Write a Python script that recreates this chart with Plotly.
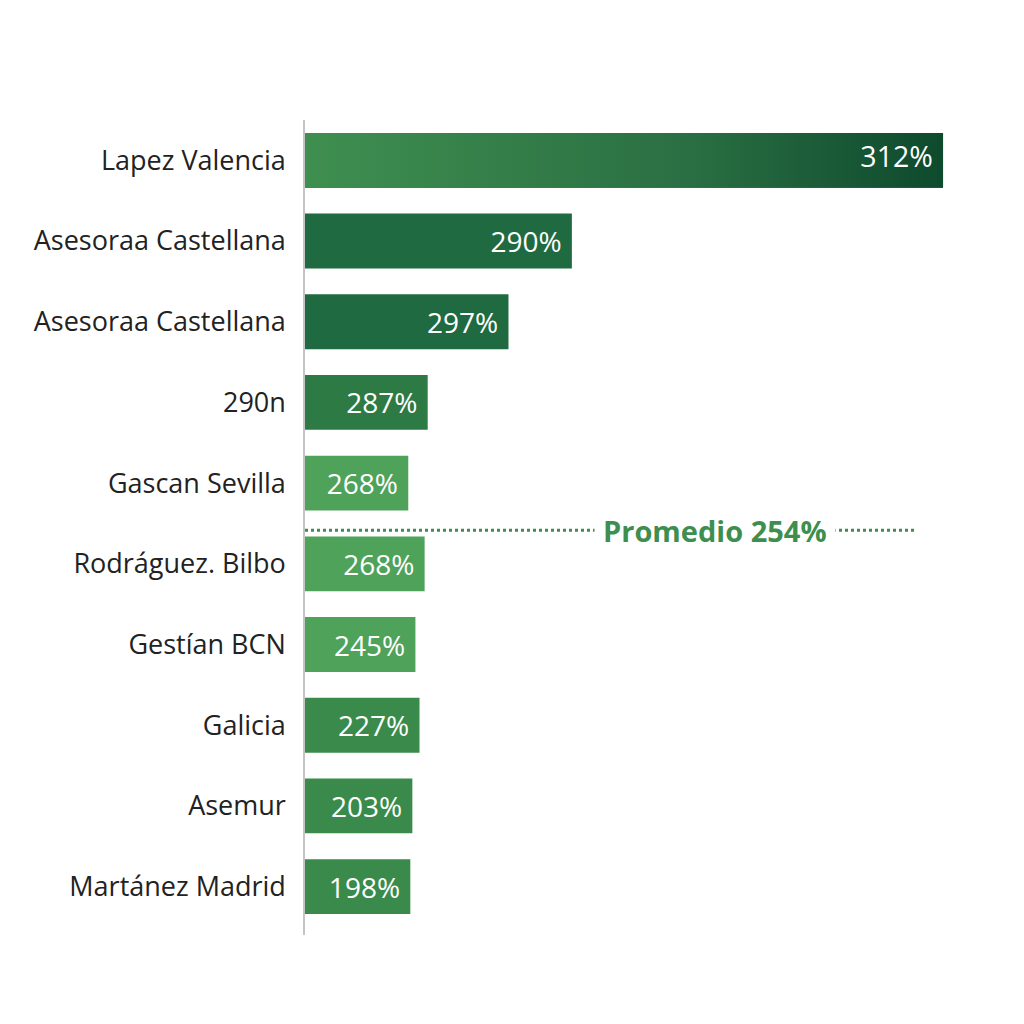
import plotly.graph_objects as go

# ---- data (bar lengths in the chart's own units) ----
names = ['Lapez Valencia', 'Asesoraa Castellana', 'Asesoraa Castellana', '290n',
         'Gascan Sevilla', 'Rodráguez. Bilbo', 'Gestían BCN', 'Galicia',
         'Asemur', 'Martánez Madrid']
bar_len = [312, 130.5, 99.5, 60, 50.5, 58.5, 54, 56, 52.5, 51.5]
bar_text = ['312%', '290%', '297%', '287%', '268%', '268%', '245%', '227%', '203%', '198%']
avg_label = 'Promedio 254%'

# ---- styling ----
_DARK, _MID4, _LIGHT, _MID = '#1f6a40', '#2d7a45', '#4fa25a', '#3a8b4b'
bar_cols = ['#0f4d2f', _DARK, _DARK, _MID4, _LIGHT, _LIGHT, _LIGHT, _MID, _MID, _MID]
_GRAD = [[0, '#3f8f50'], [0.6, '#2a6f43'], [1, '#0e4a2d']]
_BARW = 0.68
_AVG_Y = 4.585
FONT = 'Open Sans'
_PAD = '\u00a0'      # keeps the value a little off the bar end

ys = list(range(len(names)))
fig = go.Figure()
fig.add_trace(go.Bar(x=bar_len, y=ys, orientation='h', width=_BARW,
                     marker=dict(color=bar_cols, line=dict(width=0)),
                     text=[''] + [t + _PAD for t in bar_text[1:]], textposition='inside',
                     insidetextanchor='end', constraintext='none',
                     textfont=dict(family=FONT, size=28, color='white'),
                     hoverinfo='skip', showlegend=False))

# top bar drawn again with a left->right gradient
x0, x1 = 0, bar_len[0]
y0, y1 = ys[0] - _BARW / 2, ys[0] + _BARW / 2
fig.add_trace(go.Scatter(x=[x0, x1, x1, x0, x0], y=[y0, y0, y1, y1, y0], mode='lines',
                         fill='toself', line=dict(width=0),
                         fillgradient=dict(type='horizontal', colorscale=_GRAD),
                         hoverinfo='skip', showlegend=False))
fig.add_trace(go.Scatter(x=[bar_len[0] - 5], y=[ys[0]], mode='text', text=[bar_text[0]],
                         textposition='middle left',
                         textfont=dict(family=FONT, size=28.5, color='white'),
                         hoverinfo='skip', showlegend=False))

# average line (dotted) with label
fig.add_shape(type='line', x0=0, x1=298, y0=_AVG_Y, y1=_AVG_Y, xref='x', yref='y',
              line=dict(color='#3e8e4f', width=3, dash='dot'), layer='above')
fig.add_annotation(x=200.5, y=_AVG_Y, text=f'<b>{avg_label}</b>', showarrow=False,
                   bgcolor='white', borderpad=8,
                   font=dict(family=FONT, size=29, color='#3e8e4f'))

fig.update_layout(width=1024, height=1024, plot_bgcolor='white', paper_bgcolor='white',
                  margin=dict(l=297, r=27, t=112, b=97), bargap=0.3,
                  xaxis=dict(range=[0, 342.3], visible=False),
                  yaxis=dict(range=[9.6, -0.5], tickvals=ys, ticktext=names,
                             showgrid=False, zeroline=False, showline=True,
                             linecolor='#c4c4c4', linewidth=1.5, ticks='',
                             ticklabelstandoff=12,
                             tickfont=dict(family=FONT, size=27, color='#222222')))
fig.write_html('out.html')
